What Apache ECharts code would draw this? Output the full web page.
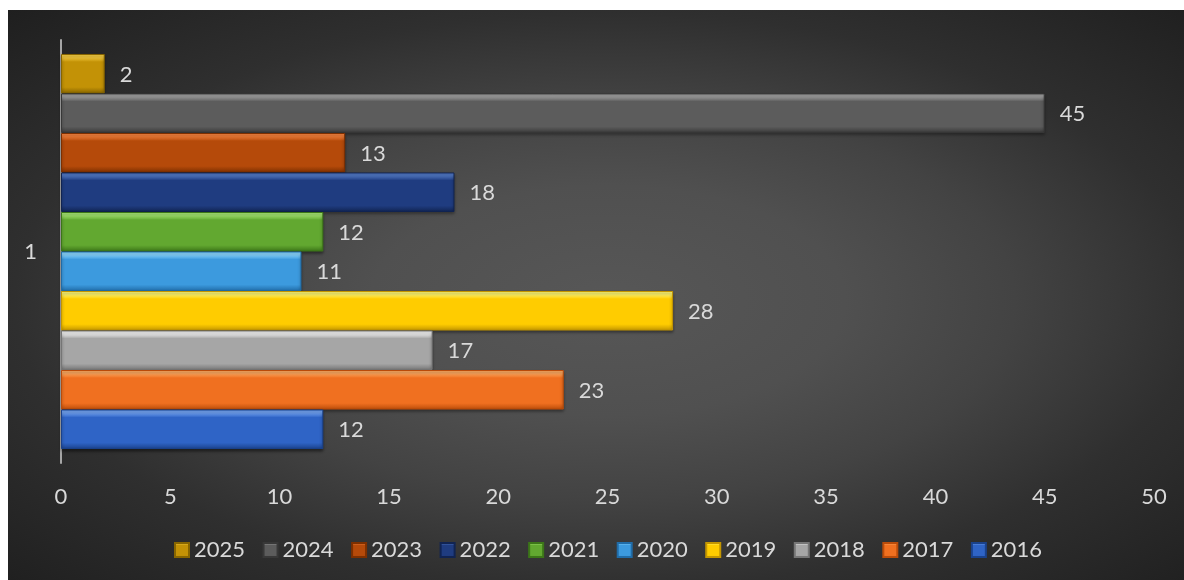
<!DOCTYPE html>
<html>
<head>
<meta charset="utf-8">
<script src="https://cdn.jsdelivr.net/npm/echarts@6/dist/echarts.min.js"></script>
<style>
  html, body { margin: 0; padding: 0; background: #ffffff; }
  #wrap {
    position: absolute; left: 8px; top: 10px; width: 1176px; height: 570px;
    background: radial-gradient(ellipse farthest-corner at 51% 51%, #575757 0%, #505050 28%, #434343 48%, #2f2f2f 70%, #1f1f1f 100%);
  }
  #chart { width: 1176px; height: 570px; }
</style>
</head>
<body>
<div id="wrap"><div id="chart"></div></div>
<script>
// ---- data ----
const categories = ['1'];
const seriesNames = ['2025', '2024', '2023', '2022', '2021', '2020', '2019', '2018', '2017', '2016'];
const seriesValues = [2, 45, 13, 18, 12, 11, 28, 17, 23, 12];
const xTicks = [0, 5, 10, 15, 20, 25, 30, 35, 40, 45, 50];

// ---- colours (top highlight, base, bottom shade) ----
const palette = {
  '2025': ['#f6cc40', '#c39206', '#876500'],
  '2024': ['#a0a0a0', '#5c5c5c', '#383838'],
  '2023': ['#f5803a', '#b54a0a', '#7e3000'],
  '2022': ['#5078c6', '#1f3c80', '#112452'],
  '2021': ['#a4e670', '#62a830', '#3c7618'],
  '2020': ['#88d6ff', '#3c9ade', '#206ca8'],
  '2019': ['#fff670', '#ffcc00', '#c49600'],
  '2018': ['#f2f2f2', '#a6a6a6', '#767676'],
  '2017': ['#ffaa60', '#f07020', '#bb4c0a'],
  '2016': ['#72a4f4', '#2f64c6', '#1a428c']
};

const FONT = 'Lato';
const TXT = '#d9d9d9';

const series = seriesNames.map((name, i) => {
  const c = palette[name];
  return {
    name: name,
    type: 'bar',
    data: [seriesValues[i]],
    barGap: '0%',
    barCategoryGap: '6.6%',
    itemStyle: {
      color: {
        type: 'linear', x: 0, y: 0, x2: 0, y2: 1,
        colorStops: [
          { offset: 0, color: c[0] },
          { offset: 0.08, color: c[0] },
          { offset: 0.2, color: c[1] },
          { offset: 0.84, color: c[1] },
          { offset: 1, color: c[2] }
        ]
      },
      borderColor: c[2],
      borderWidth: 1,
      shadowColor: 'rgba(0,0,0,0.45)',
      shadowBlur: 3,
      shadowOffsetY: 2
    },
    label: {
      show: true,
      position: 'right',
      distance: 15,
      offset: [0, 1],
      color: TXT,
      fontFamily: FONT,
      fontSize: 22
    }
  };
});

const chart = echarts.init(document.getElementById('chart'));
chart.setOption({
  backgroundColor: 'transparent',
  animation: false,
  textStyle: { fontFamily: FONT },
  grid: { left: 53, right: 30, top: 30, bottom: 117, containLabel: false },
  legend: {
    data: seriesNames,
    left: 161,
    top: 524,
    itemWidth: 14,
    itemHeight: 14,
    itemGap: 17.5,
    icon: 'rect',
    textStyle: { color: TXT, fontFamily: FONT, fontSize: 22 }
  },
  xAxis: {
    type: 'value',
    min: xTicks[0],
    max: xTicks[xTicks.length - 1],
    interval: xTicks[1] - xTicks[0],
    axisLine: { show: false },
    axisTick: { show: false },
    splitLine: { show: false },
    axisLabel: { color: TXT, fontFamily: FONT, fontSize: 22, margin: 23 }
  },
  yAxis: {
    type: 'category',
    data: categories,
    inverse: false,
    axisLine: { show: true, lineStyle: { color: '#a6a6a6', width: 2 } },
    axisTick: { show: false },
    axisLabel: { color: TXT, fontFamily: FONT, fontSize: 22, margin: 24 }
  },
  series: series
});
</script>
</body>
</html>
